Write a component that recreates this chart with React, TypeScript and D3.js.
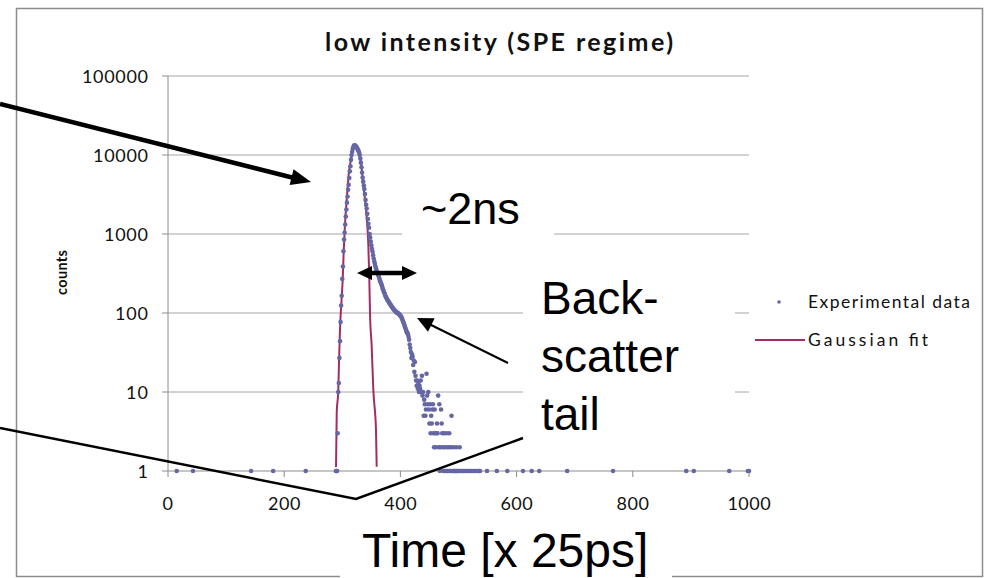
import React from "react";
import * as d3 from "d3";

// ---------- data ----------
const expTime: number[] = [
  15, 43, 143, 181, 237, 289, 290, 291,
  292, 293, 294, 295, 296, 297, 298, 299, 300, 301, 302, 303, 304, 305, 306, 307, 308, 309,
  310, 311, 312, 313, 314, 315, 316, 317, 318, 319, 320, 321, 322, 323, 324, 325, 326, 327, 328, 329,
  330, 331, 332, 333, 334, 335, 336, 337, 338, 339, 340, 341, 342, 343, 344, 345, 346, 347, 348, 349,
  350, 351, 352, 353, 354, 355, 356, 357, 358, 359, 360, 361, 362, 363, 364, 365, 366, 367, 368, 369,
  370, 371, 372, 373, 374, 375, 376, 377, 378, 379, 380, 381, 382, 383, 384, 385, 386, 387, 388, 389,
  390, 391, 392, 393, 394, 395, 396, 397, 398, 399, 400, 401, 402, 403, 404, 405, 406, 407, 408, 409,
  410, 411, 412, 413, 414, 415, 416, 417, 418, 419, 420, 421, 422, 423,
  424, 425, 426, 427, 428, 429, 430, 431, 432, 433, 434, 435, 436, 437, 438, 439,
  440, 441, 442, 443, 444, 445, 446, 447, 448, 449, 450, 451, 452, 453, 454, 455, 456, 457, 458, 459,
  460, 461, 462, 463, 464, 465, 466, 467, 468, 469, 470, 471, 472, 473, 474, 475, 476, 477, 478, 479,
  480, 481, 482, 483, 484, 485, 486, 487, 488, 489, 490, 491, 492, 493, 494, 495, 496, 497, 498, 499,
  500, 502, 503, 505, 507, 509, 511, 513, 515, 518, 520, 522, 525, 528, 531, 534, 536, 537,
  549, 566, 584, 611, 626, 639, 687, 766, 892, 905, 966, 998, 1000,
];
const expCount: number[] = [
  1, 1, 1, 1, 1, 1, 1, 1,
  3, 10, 13, 27, 44, 77, 124, 165, 270, 388, 604, 849, 1043, 1318, 1665, 2035, 2494, 2980,
  3625, 4190, 5120, 6210, 7200, 8730, 10000, 11000, 12000, 12600, 13100, 13300, 13200, 13000, 12700, 12400, 12000, 11600, 11200, 10700,
  10000, 9000, 8000, 7000, 6000, 5200, 4600, 4100, 3700, 3200, 2700, 2350, 2100, 1800, 1550, 1350, 1200, 1000, 900, 800,
  720, 650, 600, 540, 490, 450, 420, 390, 365, 345, 330, 315, 300, 285, 270, 255, 245, 235, 225, 210,
  200, 190, 182, 175, 165, 160, 155, 150, 145, 142, 138, 135, 130, 127, 124, 121, 118, 115, 112, 110,
  108, 106, 104, 103, 101, 100, 99, 98, 96, 94, 92, 90, 88, 84, 80, 77, 74, 70, 66, 63,
  60, 57, 56, 54, 50, 46, 40, 36, 32, 27, 30, 28, 22, 25,
  18, 24, 16, 14, 12, 14, 11, 13, 10, 12, 11, 14, 10, 16, 9, 10,
  5, 8, 7, 5, 6, 17, 9, 7, 10, 6, 4, 7, 3, 5, 4, 6, 7, 3, 2, 6,
  3, 2, 3, 4, 3, 9, 2, 7, 1, 2, 6, 4, 3, 2, 1, 3, 2, 1, 1, 3,
  2, 1, 1, 2, 3, 1, 1, 2, 5, 1, 1, 2, 1, 1, 1, 1, 2, 1, 1, 1,
  1, 2, 1, 1, 1, 1, 1, 1, 1, 1, 1, 1, 1, 1, 1, 1, 1, 1,
  1, 1, 1, 1, 1, 1, 1, 1, 1, 1, 1, 1, 1,
];

const fitTime: number[] = [
  289.2, 290.4, 293.1, 294.3, 296, 299, 300.7, 302.4, 304.6, 308, 311.5, 315, 318.4, 321, 324, 327,
  331.7, 336.1, 342, 344.8, 346.5, 347.7, 350.6, 353.4, 358, 359.2,
];
const fitCount: number[] = [
  1.12, 5.4, 10.6, 23.4, 61, 160, 265, 600, 1320, 2960, 6200, 8700, 12500, 13300, 13000, 12000,
  8730, 4190, 1620, 735, 265, 100, 37.6, 10.6, 3.3, 1.13,
];

const yTicks: number[] = [1, 10, 100, 1000, 10000, 100000];
const yTickLabels: string[] = ["1", "10", "100", "1000", "10000", "100000"];
const xTicks: number[] = [0, 200, 400, 600, 800, 1000];
const xTickLabels: string[] = ["0", "200", "400", "600", "800", "1000"];

const titleText = "low intensity (SPE regime)";
const yAxisTitle = "counts";
const seriesNames: string[] = ["Experimental data", "Gaussian fit"];

// ---------- styles ----------
const W = 987;
const H = 578;
const DOT = "#6567a5";
const FIT = "#a32d62";
const GRID = "#a6a6a6";
const AXIS = "#8c8c8c";
const SANS = "Lato, 'Open Sans', sans-serif";
const ARIAL = "'Liberation Sans', Arial, sans-serif";

export default function App() {
  const x = d3.scaleLinear().domain([0, 1000]).range([168, 749]);
  const y = d3.scaleLog().domain([1, 100000]).range([471, 76]);

  const fitPts: [number, number][] = fitTime.map((t, i) => [x(t), y(fitCount[i])]);
  const fitPath = d3.line().curve(d3.curveMonotoneX)(fitPts) || "";

  const arrowHead = (tx: number, ty: number, fx: number, fy: number, len: number, half: number) => {
    const a = Math.atan2(ty - fy, tx - fx);
    const bx = tx - len * Math.cos(a);
    const by = ty - len * Math.sin(a);
    const px = -Math.sin(a) * half;
    const py = Math.cos(a) * half;
    return `M${tx},${ty}L${bx + px},${by + py}L${bx - px},${by - py}Z`;
  };

  return (
    <svg
      width={W}
      height={H}
      style={{ position: "absolute", left: 0, top: 0, background: "#fff" }}
    >
      <rect x={0} y={0} width={W} height={H} fill="#fff" />
      {/* chart border */}
      <rect x={16.5} y={8.5} width={966} height={568} fill="none" stroke={AXIS} strokeWidth={1.5} />

      {/* gridlines */}
      {yTicks.slice(1).map((t) => (
        <line key={"g" + t} x1={x(0)} x2={x(1000)} y1={y(t)} y2={y(t)} stroke={GRID} strokeWidth={1} />
      ))}
      {/* axes */}
      <line x1={x(0)} x2={x(0)} y1={y(100000)} y2={y(1)} stroke={AXIS} strokeWidth={1} />
      <line x1={x(0)} x2={x(1000)} y1={y(1)} y2={y(1)} stroke={AXIS} strokeWidth={1} />
      {yTicks.map((t) => (
        <line key={"yt" + t} x1={x(0) - 6} x2={x(0)} y1={y(t)} y2={y(t)} stroke={AXIS} strokeWidth={1} />
      ))}
      {xTicks.map((t) => (
        <line key={"xt" + t} x1={x(t)} x2={x(t)} y1={y(1)} y2={y(1) + 6} stroke={AXIS} strokeWidth={1} />
      ))}
      {yTicks.map((t, i) => (
        <text
          key={"yl" + t}
          x={148}
          y={y(t) + 6.5}
          textAnchor="end"
          fontFamily={SANS}
          fontSize={18}
          fill="#111"
          textLength={yTickLabels[i].length * 11}
          lengthAdjust="spacing"
        >
          {yTickLabels[i]}
        </text>
      ))}
      {xTicks.map((t, i) => (
        <text
          key={"xl" + t}
          x={x(t) - (xTickLabels[i].length * 10.8) / 2}
          y={510}
          fontFamily={SANS}
          fontSize={18}
          fill="#111"
          textLength={xTickLabels[i].length * 10.8}
          lengthAdjust="spacing"
        >
          {xTickLabels[i]}
        </text>
      ))}

      {/* title */}
      <text
        x={325}
        y={51}
        fontFamily={SANS}
        fontWeight="bold"
        fontSize={25}
        fill="#111"
        textLength={348}
        lengthAdjust="spacing"
      >
        {titleText}
      </text>
      {/* y axis title */}
      <text
        transform="translate(67,295) rotate(-90)"
        fontFamily={SANS}
        fontWeight="bold"
        fontSize={14.5}
        fill="#111"
        textLength={45}
        lengthAdjust="spacing"
      >
        {yAxisTitle}
      </text>

      {/* legend */}
      <circle cx={779} cy={302} r={1.8} fill={DOT} />
      <text x={808} y={308} fontFamily={SANS} fontSize={17.5} fill="#111" textLength={162} lengthAdjust="spacing">
        {seriesNames[0]}
      </text>
      <line x1={755} x2={805} y1={340} y2={340} stroke={FIT} strokeWidth={2} />
      <text x={808} y={346} fontFamily={SANS} fontSize={17.5} fill="#111" textLength={120} lengthAdjust="spacing">
        {seriesNames[1]}
      </text>

      {/* fit line */}
      <path d={fitPath} fill="none" stroke={FIT} strokeWidth={2} />
      {/* experimental points */}
      {expTime.map((t, i) => (
        <circle key={"p" + i} cx={x(t)} cy={y(expCount[i])} r={2.3} fill={DOT} />
      ))}

      {/* annotation boxes */}
      <rect x={402} y={172} width={152} height={80} fill="#fff" />
      <rect x={523} y={252} width={212} height={198} fill="#fff" />
      <rect x={340} y={514} width={332} height={70} fill="#fff" />

      {/* annotation texts */}
      <text x={421} y={224} fontFamily={ARIAL} fontSize={45} fill="#000">~2ns</text>
      <text x={541} y={314} fontFamily={ARIAL} fontSize={46} fill="#000">Back-</text>
      <text x={541} y={372} fontFamily={ARIAL} fontSize={46} fill="#000">scatter</text>
      <text x={541} y={430} fontFamily={ARIAL} fontSize={46} fill="#000">tail</text>
      <text x={362} y={567} fontFamily={ARIAL} fontSize={48} fill="#000">Time [x 25ps]</text>

      {/* thick arrow */}
      <line x1={0} y1={104} x2={296} y2={178.5} stroke="#000" strokeWidth={4.5} />
      <path d={arrowHead(311, 182, 0, 104, 20, 8)} fill="#000" />
      {/* double arrow */}
      <line x1={368} x2={406} y1={273} y2={273} stroke="#000" strokeWidth={4.5} />
      <path d={arrowHead(357, 273, 417, 273, 15, 7)} fill="#000" />
      <path d={arrowHead(417, 273, 357, 273, 15, 7)} fill="#000" />
      {/* thin arrow */}
      <line x1={508} y1={363} x2={425} y2={322} stroke="#000" strokeWidth={2} />
      <path d={arrowHead(417, 318, 508, 363, 16, 7.5)} fill="#000" />
      {/* V lines */}
      <polyline points="0,428 356,499 523,438" fill="none" stroke="#000" strokeWidth={2.5} />
    </svg>
  );
}
